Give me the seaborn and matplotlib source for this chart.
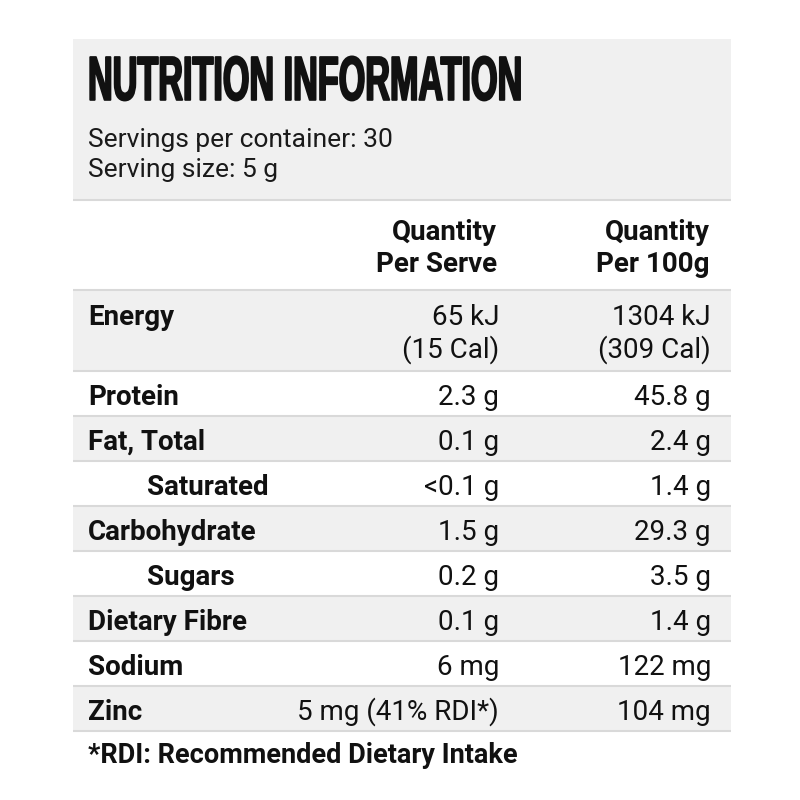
import matplotlib
matplotlib.use("Agg")
import matplotlib.pyplot as plt
from matplotlib.patheffects import AbstractPathEffect
from matplotlib.transforms import Affine2D
import seaborn as sns

# Nutrition panel content
TITLE = "NUTRITION INFORMATION"
SERVING_INFO = ["Servings per container: 30", "Serving size: 5 g"]
COLUMN_HEADERS = ["Quantity\nPer Serve", "Quantity\nPer 100g"]
NUTRIENTS = ["Energy", "Protein", "Fat, Total", "Saturated", "Carbohydrate",
             "Sugars", "Dietary Fibre", "Sodium", "Zinc"]
PER_SERVE = ["65 kJ\n(15 Cal)", "2.3 g", "0.1 g", "<0.1 g", "1.5 g",
             "0.2 g", "0.1 g", "6 mg", "5 mg (41% RDI*)"]
PER_100G = ["1304 kJ\n(309 Cal)", "45.8 g", "2.4 g", "1.4 g", "29.3 g",
            "3.5 g", "1.4 g", "122 mg", "104 mg"]
SUB_ITEMS = ["Saturated", "Sugars"]
FOOTNOTE = "*RDI: Recommended Dietary Intake"


class FitGlyphs(AbstractPathEffect):
    """Stretch the text outline to a given width/height (in pixels) to mimic
    a tall condensed display face, which is not installed here."""

    def __init__(self, width, height, lw=1.5):
        super().__init__()
        self.width = width
        self.height = height
        self.lw = lw

    def draw_path(self, renderer, gc, tpath, affine, rgbFace=None):
        pts = affine.transform(tpath.vertices)
        x0, y0 = pts[:, 0].min(), pts[:, 1].min()
        sx = self.width / (pts[:, 0].max() - x0)
        sy = self.height / (pts[:, 1].max() - y0)
        fit = affine + Affine2D().translate(-x0, -y0).scale(sx, sy).translate(x0, y0)
        gc0 = renderer.new_gc()
        gc0.copy_properties(gc)
        gc0.set_linewidth(self.lw)
        gc0.set_foreground(rgbFace, isRGBA=True)
        renderer.draw_path(gc0, tpath, fit, rgbFace)
        gc0.restore()


sns.set_theme(style="white")
plt.rcParams["font.family"] = ["Roboto", "DejaVu Sans"]

GREY = "#f0f0f0"
RULE = "#d9d9d9"
INK = "#111111"

fig = plt.figure(figsize=(8, 8), dpi=100)
ax = fig.add_axes([0, 0, 1, 1])
ax.set_xlim(0, 800)
ax.set_ylim(800, 0)
ax.axis("off")

left, right = 73, 731
text_x = 88
col1_x, col2_x = 499, 711

# header block
ax.fill_between([left, right], 39, 200, color=GREY, lw=0)
ax.hlines(200, left, right, color=RULE, lw=1.5)
ax.text(text_x, 100, TITLE, fontsize=34, fontweight="bold",
        family=["Liberation Sans", "DejaVu Sans"], color=INK,
        va="baseline", ha="left",
        path_effects=[FitGlyphs(width=432, height=44, lw=1.4)])
for i, line in enumerate(SERVING_INFO):
    ax.text(text_x, 147 + 30 * i, line, fontsize=19, color="#1a1a1a",
            va="baseline", ha="left")

# column headings
for x, head in zip([col1_x - 2, col2_x - 1], COLUMN_HEADERS):
    for j, part in enumerate(head.split("\n")):
        ax.text(x, 240 + 32 * j, part, fontsize=20, fontweight="semibold",
                color=INK, va="baseline", ha="right")
ax.hlines(290, left, right, color=RULE, lw=1.5)

# nutrient rows
y = 291
line_step = 33
for i, (name, a, b) in enumerate(zip(NUTRIENTS, PER_SERVE, PER_100G)):
    n = max(a.count("\n"), b.count("\n")) + 1
    h = 10 + 35 * n
    if i % 2 == 0:
        ax.fill_between([left, right], y, y + h, color=GREY, lw=0)
    base = y + 34
    indent = 59 if name in SUB_ITEMS else 0
    ax.text(text_x + indent, base, name, fontsize=20, fontweight="semibold",
            color=INK, va="baseline", ha="left")
    for x, val in zip([col1_x, col2_x], [a, b]):
        for j, part in enumerate(val.split("\n")):
            ax.text(x, base + line_step * j, part, fontsize=20, color=INK,
                    va="baseline", ha="right")
    y += h
    ax.hlines(y, left, right, color=RULE, lw=1.5)

ax.text(text_x, 763, FOOTNOTE, fontsize=19.5, fontweight="semibold",
        color=INK, va="baseline", ha="left")

fig.savefig("out.png", dpi=100, facecolor="white")
